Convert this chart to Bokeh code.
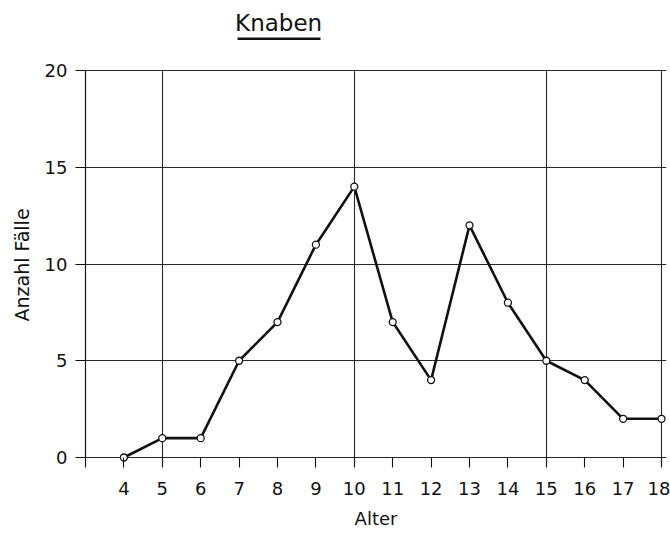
from bokeh.plotting import figure
from bokeh.models import FixedTicker, Label, BoxAnnotation, Range1d, Title
from bokeh.embed import file_html
from bokeh.resources import INLINE

# Data
alter = [4, 5, 6, 7, 8, 9, 10, 11, 12, 13, 14, 15, 16, 17, 18]
faelle = [0, 1, 1, 5, 7, 11, 14, 7, 4, 12, 8, 5, 4, 2, 2]
x_ticks = [3, 4, 5, 6, 7, 8, 9, 10, 11, 12, 13, 14, 15, 16, 17, 18]
x_grid = [5, 10, 15, 18]
y_ticks = [0, 5, 10, 15, 20]
title_text = "Knaben"
x_label = "Alter"
y_label = "Anzahl Fälle"

FONT = "DejaVu Sans"
INK = "#111111"

p = figure(width=670, height=534, output_backend="svg", toolbar_location=None,
           x_range=Range1d(3, 18.13), y_range=Range1d(-0.31, 23.62),
           min_border_left=85, min_border_right=4, min_border_top=0, min_border_bottom=71)
p.outline_line_color = None
p.background_fill_color = "white"
p.border_fill_color = "white"

# grids (limited to the drawn chart area 0..20)
p.xgrid.ticker = FixedTicker(ticks=x_grid)
p.xgrid.cross_bounds = (-0.25, 20)
p.ygrid.ticker = FixedTicker(ticks=y_ticks)
for g in (p.xgrid, p.ygrid):
    g.grid_line_color = INK
    g.grid_line_width = 1.1
    g.grid_line_alpha = 0.9

# x axis
xa = p.xaxis[0]
xa.ticker = FixedTicker(ticks=x_ticks)
xa.major_label_overrides = {3: ""}
xa.axis_line_color = None
xa.major_tick_in = 6
xa.major_tick_out = 4
xa.major_tick_line_color = INK
xa.major_tick_line_width = 1.1
xa.minor_tick_line_color = None
xa.major_label_text_font = FONT
xa.major_label_text_font_size = "18px"
xa.major_label_text_color = INK
xa.major_label_standoff = 14
xa.axis_label = x_label
xa.axis_label_text_font = FONT
xa.axis_label_text_font_size = "18px"
xa.axis_label_text_font_style = "normal"
xa.axis_label_text_color = INK
xa.axis_label_standoff = 10

# y axis
ya = p.yaxis[0]
ya.ticker = FixedTicker(ticks=y_ticks)
ya.bounds = (0, 20)
ya.axis_line_color = INK
ya.axis_line_width = 1.2
ya.major_tick_in = 0
ya.major_tick_out = 10
ya.major_tick_line_color = INK
ya.major_tick_line_width = 1.1
ya.minor_tick_line_color = None
ya.major_label_text_font = FONT
ya.major_label_text_font_size = "18px"
ya.major_label_text_color = INK
ya.major_label_standoff = 8

# y axis title, placed as a side title so it can be positioned on the 0..20 span
p.add_layout(Title(text=y_label, align="left", offset=142, standoff=17,
                   text_font=FONT, text_font_size="19px", text_font_style="normal",
                   text_color=INK), "left")

# data
p.line(alter, faelle, line_color=INK, line_width=2.6)
p.scatter(alter, faelle, size=7, marker="circle", fill_color="white",
          line_color=INK, line_width=1.3)

# title with underline
p.add_layout(Label(x=8.03, y=22.48, text=title_text, text_font=FONT,
                   text_font_size="23px", text_color=INK,
                   text_align="center", text_baseline="alphabetic"))
p.add_layout(BoxAnnotation(left=6.96, right=9.12, bottom=21.58, top=21.71,
                           fill_color=INK, fill_alpha=1.0, line_color=None))

open("out.html", "w").write(file_html(p, INLINE))
